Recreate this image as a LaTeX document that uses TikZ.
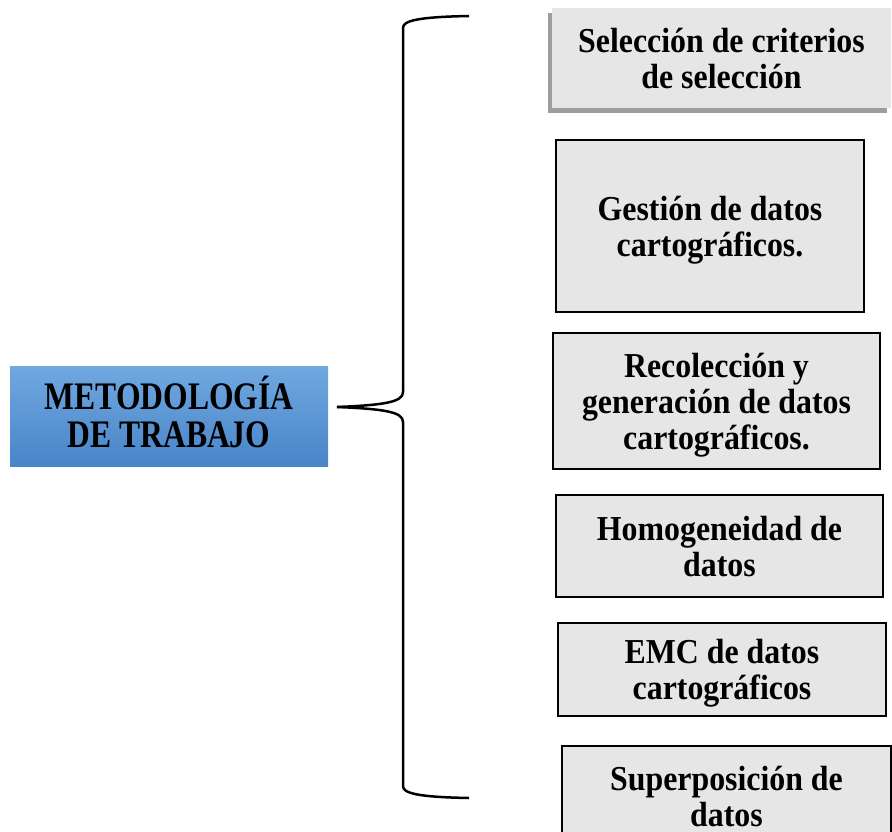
\documentclass[tikz,border=0pt]{standalone}
\usepackage{fontspec}
\setmainfont{Liberation Serif}
\newfontfamily\cajafont[FakeStretch=0.91]{Liberation Serif}
\newfontfamily\titulofont[FakeStretch=0.81]{Liberation Serif}
\usetikzlibrary{shadows}

\definecolor{cajagris}{RGB}{230,230,230}
\definecolor{azulclaro}{RGB}{112,168,224}
\definecolor{azuloscuro}{RGB}{72,132,200}

\tikzset{
  caja/.style={draw=black, line width=2pt, fill=cajagris, align=center,
    inner sep=0pt, text depth=0pt, font=\cajafont\bfseries\fontsize{35}{36}\selectfont},
  titulo/.style={top color=azulclaro, bottom color=azuloscuro, align=center,
    inner sep=0pt, text depth=9pt, font=\titulofont\bfseries\fontsize{39}{38}\selectfont},
  llave/.style={line width=2.5pt}
}

\begin{document}
\begin{tikzpicture}[x=1pt,y=-1pt]
\useasboundingbox (0,0) rectangle (892,832);
\clip (0,0) rectangle (892,832);

\node[titulo, minimum width=318pt, minimum height=100pt] (metodo) at (169,416.5) {METODOLOGÍA\\DE TRABAJO};

% cajas de la derecha
\node[caja, draw=none, drop shadow={shadow xshift=-4pt, shadow yshift=-5pt, fill=black!55, opacity=0.7},
  minimum width=339pt, minimum height=100pt] (criterios) at (721.5,58) {Selección de criterios\\de selección};
\node[caja, minimum width=308pt, minimum height=172pt] (gestion) at (710,226) {Gestión de datos\\cartográficos.};
\node[caja, minimum width=327pt, minimum height=136pt] (recoleccion) at (716.5,401) {Recolección y\\generación de datos\\cartográficos.};
\node[caja, minimum width=327pt, minimum height=102pt] (homogen) at (719.5,546) {Homogeneidad de\\datos};
\node[caja, minimum width=328pt, minimum height=93pt] (emc) at (722,669.5) {EMC de datos\\cartográficos};
\node[caja, minimum width=329pt, minimum height=100pt] (superpos) at (726.5,796) {Superposición de\\datos};

% llave
\coordinate (arriba) at (469,16);
\coordinate (punta) at (337,407);
\coordinate (abajo) at (469,798);
\draw[llave] (arriba) .. controls (416,17) and (403,21) .. (403,28) -- (403,392)
  .. controls (403,402) and (385,405) .. (punta);
\draw[llave] (punta) .. controls (385,409) and (403,412) .. (403,422) -- (403,786)
  .. controls (403,793) and (416,797) .. (abajo);

\end{tikzpicture}
\end{document}
